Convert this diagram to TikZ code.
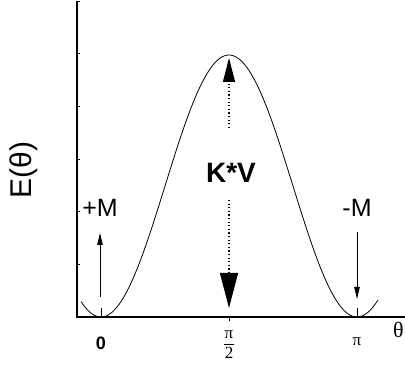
\documentclass[tikz,border=0pt]{standalone}
\usepackage{fontspec}
\setmainfont{Liberation Sans}
\newfontfamily\serifgr{Liberation Serif}
\usetikzlibrary{arrows.meta}
\tikzset{
  axisline/.style={line width=1.6pt},
  tickline/.style={line width=1pt},
  curveline/.style={line width=0.8pt},
  magarrow/.style={line width=0.8pt,-{Triangle[length=12pt,width=5.5pt]}},
  dotstyle/.style={line width=1.2pt,dash pattern=on 1.2pt off 2.4pt},
  dotup/.style={dotstyle,-{Triangle[length=24pt,width=12pt]}},
  dotdown/.style={dotstyle,-{Triangle[length=35pt,width=18pt]}},
  lbl/.style={inner sep=0pt,font=\fontsize{25}{25}\selectfont},
  pilbl/.style={inner sep=0pt,font=\serifgr\fontsize{17}{17}\selectfont},
}
\begin{document}
\begin{tikzpicture}[x=1pt,y=-1pt]
\useasboundingbox (0,0) rectangle (405,371);
% axes
\coordinate (ytop) at (77,1);
\coordinate (orig) at (77,317);
\coordinate (xend) at (405,317);
\draw[axisline] (ytop) -- (orig) -- (xend);
% y ticks
\foreach \yy in {2,54,107,160,212,265}
  \draw[tickline] (77,\yy) -- (80,\yy);
% x ticks
\draw[tickline] (101,317) -- (101,308);
\draw[tickline] (357,317) -- (357,308);
\draw[tickline] (229,317) -- (229,321);
% curve
\draw[curveline] plot[variable=\t,domain=-14.06:194.77,samples=150]
  ({101+\t*1.4222},{317-262*sin(\t)*sin(\t)});
% +M arrow
\coordinate (pmtail) at (100,297);
\coordinate (pmhead) at (100,233);
\draw[magarrow] (pmtail) -- (pmhead);
\node[lbl] (pm) at (100,208) {+M};
% -M arrow
\coordinate (mmtail) at (357,232);
\coordinate (mmhead) at (357,299);
\draw[magarrow] (mmtail) -- (mmhead);
\node[lbl] (mm) at (357,208) {-M};
% K*V
\node[inner sep=0pt,font=\bfseries\fontsize{28}{28}\selectfont] (kv) at (231,173) {K*V};
\coordinate (upstart) at (229,128);
\coordinate (uptip) at (229,58);
\coordinate (dnstart) at (229,200);
\coordinate (dntip) at (229,308);
\draw[dotup] (upstart) -- (uptip);
\draw[dotdown] (dnstart) -- (dntip);
% labels
\node[inner sep=0pt,rotate=90,font=\fontsize{30}{30}\selectfont] (elab) at (24,170) {E(θ)};
\node[inner sep=0pt,font=\bfseries\fontsize{18}{18}\selectfont] (zero) at (101,343) {0};
\node[pilbl] (pinum) at (229,335) {π};
\node[pilbl] (piden) at (229,353) {2};
\draw[line width=0.7pt] (224,344) -- (234,344);
\node[pilbl] (pi) at (357,342) {π};
\node[inner sep=0pt,font=\serifgr\fontsize{22}{22}\selectfont] (theta) at (398.5,330) {θ};
\end{tikzpicture}
\end{document}
